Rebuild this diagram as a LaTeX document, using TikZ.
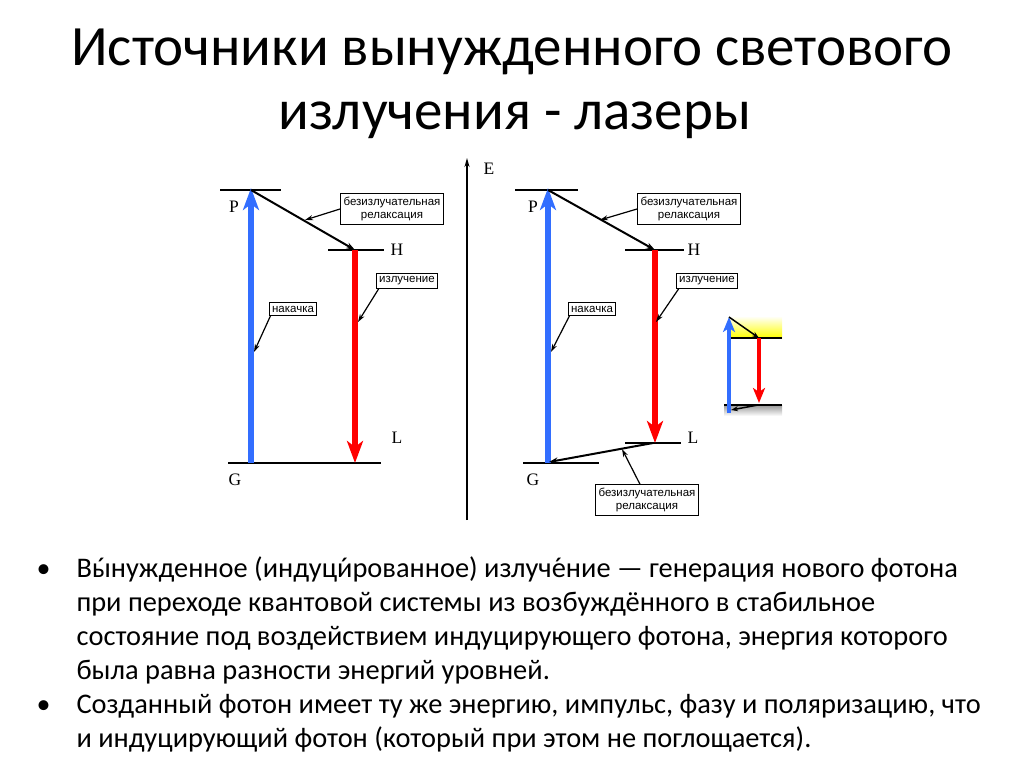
\documentclass[tikz,border=0pt]{standalone}
\usepackage{fontspec}
\setmainfont{Carlito}
\newfontfamily\lblfont{Liberation Serif}
\newfontfamily\boxfont{Liberation Sans}
\usetikzlibrary{arrows.meta}
\definecolor{pumpblue}{RGB}{50,110,255}
\definecolor{emitred}{RGB}{255,0,0}
\newcommand\stressmark[1]{{\accent"00B4 #1}}
\tikzset{
  level/.style={line width=2pt, black},
  pump/.style={line width=5.5pt, pumpblue, -{Triangle[length=22pt,width=16pt,inset=6pt]}, shorten >=-2pt},
  emit/.style={line width=5.5pt, emitred, -{Triangle[length=22pt,width=16pt,inset=6pt]}},
  relax/.style={line width=2pt, black, -{Stealth[length=9pt,width=6pt]}},
  callout/.style={line width=1.2pt, black, -{Stealth[length=8pt,width=5pt]}},
  tagbox/.style={draw, line width=1.1pt, fill=white, font=\boxfont\fontsize{11.5}{13.5}\selectfont, align=center, inner xsep=3pt, inner ysep=3pt},
  lvl/.style={font=\lblfont\fontsize{17.5}{17.5}\selectfont},
  titleline/.style={font=\fontsize{57}{64}\selectfont, anchor=base},
  bodyline/.style={font=\fontsize{28.4}{34}\selectfont, anchor=base west},
}
\begin{document}
\begin{tikzpicture}[x=1pt,y=-1pt]
\useasboundingbox (0,0) rectangle (1024,767);
% title
\node[titleline] (t1) at (512,66) {Источники вынужденного светового};
\node[titleline] (t2) at (515,130) {излучения - лазеры};

% ===== left diagram =====
\coordinate (lP1) at (220,190); \coordinate (lP2) at (281,190);
\coordinate (lH1) at (328,250); \coordinate (lH2) at (384,250);
\coordinate (lG1) at (228,463); \coordinate (lG2) at (381,463);
\draw[level] (lP1) -- (lP2);
\draw[level] (lH1) -- (lH2);
\draw[level] (lG1) -- (lG2);
\coordinate (lpb) at (251,463); \coordinate (lpt) at (251,190);
\coordinate (leb) at (355,463); \coordinate (let) at (355,250);
\draw[pump] (lpb) -- (lpt);
\draw[emit] (let) -- (leb);
\draw[relax] (lpt) -- (let);
\node[lvl] (lPl) at (234,207) {P};
\node[lvl] (lHl) at (397,250) {H};
\node[lvl] (lLl) at (397,438) {L};
\node[lvl] (lGl) at (235,480) {G};
\node[tagbox] (lb1) at (392,209) {безизлучательная\\релаксация};
\node[tagbox] (lb2) at (407,281) {излучение};
\node[tagbox] (lb3) at (293,309) {накачка};
\coordinate (lr1) at (305,220);
\coordinate (le1) at (358,322);
\coordinate (lp1) at (254,352);
\draw[callout] (lb1.west) -- (lr1);
\draw[callout] (lb2.south west) ++(3,0) coordinate (lb2s) (lb2s) -- (le1);
\draw[callout] (lb3.south west) ++(2,0) coordinate (lb3s) (lb3s) -- (lp1);

% axis
\coordinate (ax0) at (467,520); \coordinate (ax1) at (467,158);
\draw[line width=1.4pt, -{Stealth[length=9pt,width=5pt]}] (ax0) -- (ax1);
\node[lvl] (El) at (489,169) {E};

% ===== right diagram =====
\coordinate (rP1) at (515,190); \coordinate (rP2) at (578,190);
\coordinate (rH1) at (625,250); \coordinate (rH2) at (684,250);
\coordinate (rL1) at (625,443); \coordinate (rL2) at (681,443);
\coordinate (rG1) at (523,463); \coordinate (rG2) at (599,463);
\draw[level] (rP1) -- (rP2);
\draw[level] (rH1) -- (rH2);
\draw[level] (rL1) -- (rL2);
\draw[level] (rG1) -- (rG2);
\coordinate (rpb) at (548,463); \coordinate (rpt) at (548,190);
\coordinate (reb) at (655,443); \coordinate (ret) at (655,250);
\draw[pump] (rpb) -- (rpt);
\draw[emit] (ret) -- (reb);
\draw[relax] (rpt) -- (ret);
\coordinate (rls) at (653,443); \coordinate (rge) at (549,462);
\draw[relax] (rls) -- (rge);
\node[lvl] (rPl) at (533,207) {P};
\node[lvl] (rHl) at (694,250) {H};
\node[lvl] (rLl) at (693,438) {L};
\node[lvl] (rGl) at (533,480) {G};
\node[tagbox] (rb1) at (689,209) {безизлучательная\\релаксация};
\node[tagbox] (rb2) at (707,281) {излучение};
\node[tagbox] (rb3) at (592,309) {накачка};
\node[tagbox] (rb4) at (647,500) {безизлучательная\\релаксация};
\coordinate (rr1) at (600,220);
\coordinate (re1) at (656,322);
\coordinate (rp1) at (551,352);
\coordinate (rr2) at (622,449);
\draw[callout] (rb1.west) -- (rr1);
\draw[callout] (rb2.south west) ++(3,0) coordinate (rb2s) (rb2s) -- (re1);
\draw[callout] (rb3.south west) ++(2,0) coordinate (rb3s) (rb3s) -- (rp1);
\draw[callout] (rb4.north) ++(-7,0) coordinate (rb4n) (rb4n) -- (rr2);

% ===== inset =====
\shade[top color=white, bottom color=yellow] (728,316) rectangle (782,338);
\shade[top color=gray!80, bottom color=white] (724,405) rectangle (782,416);
\coordinate (iH1) at (728,338); \coordinate (iH2) at (782,338);
\coordinate (iG1) at (724,405); \coordinate (iG2) at (782,405);
\draw[line width=1.5pt] (iH1) -- (iH2);
\draw[line width=1.5pt] (iG1) -- (iG2);
\coordinate (ipb) at (729,413); \coordinate (ipt) at (729,317);
\coordinate (ieb) at (759,338); \coordinate (iet) at (759,403);
\draw[line width=4pt, pumpblue, -{Triangle[length=15pt,width=12pt,inset=4pt]}] (ipb) -- (ipt);
\draw[line width=4pt, emitred, -{Triangle[length=15pt,width=12pt,inset=4pt]}] (ieb) -- (iet);
\draw[line width=1.5pt, -{Stealth[length=7pt,width=5pt]}] (ipt) -- (ieb);
\coordinate (ils) at (758,405); \coordinate (ile) at (731,410);
\draw[line width=1.5pt, -{Stealth[length=7pt,width=5pt]}] (ils) -- (ile);

% ===== bullets =====
\node[font=\fontsize{28}{34}\selectfont, anchor=base west] (b1) at (33,577) {•};
\node[font=\fontsize{28}{34}\selectfont, anchor=base west] (b2) at (33,713) {•};
\node[bodyline] (l1) at (73,577) {В\stressmark{ы}нужденное (индуц\stressmark{и}рованное) излуч\stressmark{е}ние — генерация нового фотона};
\node[bodyline] (l2) at (73,611) {при переходе квантовой системы из возбуждённого в стабильное};
\node[bodyline] (l3) at (73,645) {состояние под воздействием индуцирующего фотона, энергия которого};
\node[bodyline] (l4) at (73,679) {была равна разности энергий уровней.};
\node[bodyline] (l5) at (73,713) {Созданный фотон имеет ту же энергию, импульс, фазу и поляризацию, что};
\node[bodyline] (l6) at (73,747) {и индуцирующий фотон (который при этом не поглощается).};
\end{tikzpicture}
\end{document}
